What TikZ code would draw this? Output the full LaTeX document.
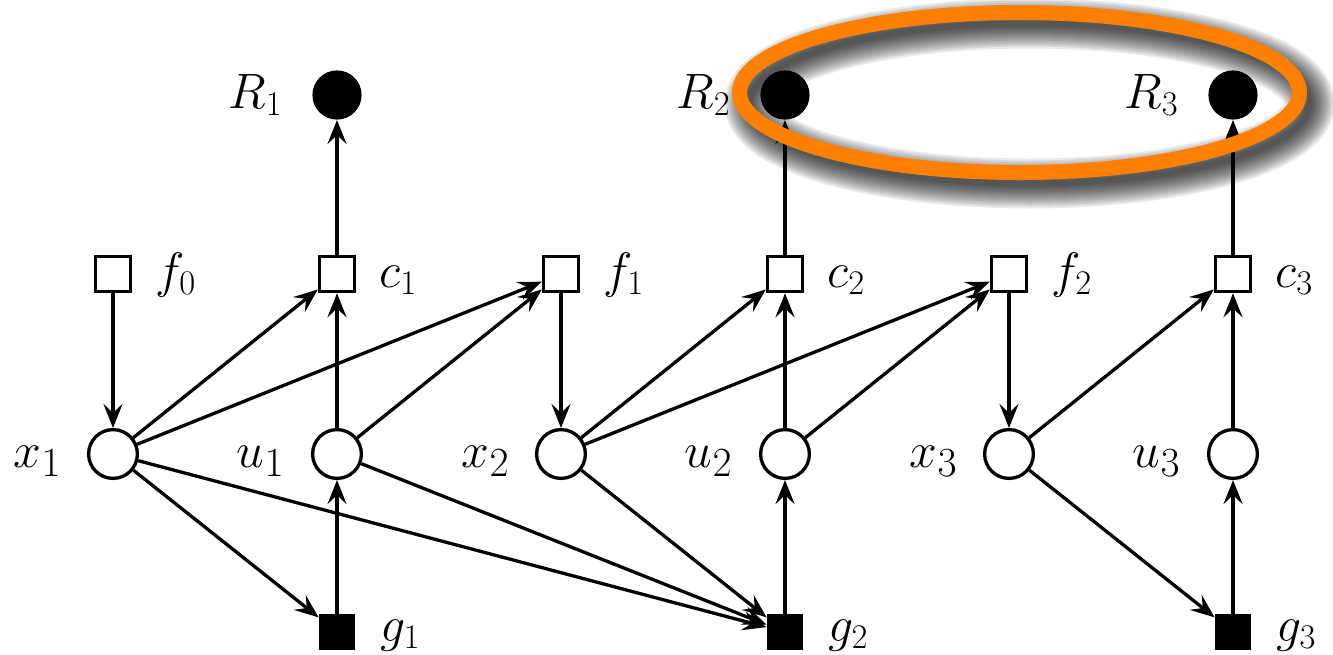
\documentclass[tikz,border=0pt]{standalone}
\usetikzlibrary{arrows.meta}
\definecolor{hlorange}{RGB}{255,128,0}
\begin{document}
\begin{tikzpicture}[x=0.5pt,y=-0.5pt,
  var/.style={circle,draw,line width=1.65pt,minimum size=24.4pt,inner sep=0,fill=white},
  fac/.style={rectangle,draw,line width=1.65pt,minimum size=17.6pt,inner sep=0,fill=white},
  gsq/.style={rectangle,fill=black,minimum size=18pt,inner sep=0},
  rew/.style={circle,fill=black,minimum size=24.6pt,inner sep=0},
  biglab/.style={anchor=base east,inner sep=0,font=\fontsize{32}{38}\selectfont},
  smlabw/.style={anchor=base west,inner sep=0,font=\fontsize{23.5}{28}\selectfont},
  smlabe/.style={anchor=base east,inner sep=0,font=\fontsize{23.5}{28}\selectfont},
  arr/.style={-{Stealth[length=12pt,width=9.5pt,inset=4.5pt]},line width=1.65pt},
  shadowring/.style={draw=black,draw opacity=0.085},
  highlight/.style={draw=hlorange,line width=7.5pt}
]
\useasboundingbox (0,0) rectangle (1333,654);

% factor squares
\node[fac] (f0) at (113,274) {};
\node[fac] (c1) at (337,274) {};
\node[fac] (f1) at (561,274) {};
\node[fac] (c2) at (785,274) {};
\node[fac] (f2) at (1009,274) {};
\node[fac] (c3) at (1233,274) {};
% variables
\node[var] (x1) at (113,454) {};
\node[var] (u1) at (337,454) {};
\node[var] (x2) at (561,454) {};
\node[var] (u2) at (785,454) {};
\node[var] (x3) at (1009,454) {};
\node[var] (u3) at (1233,454) {};
% g squares
\node[gsq] (g1) at (337,632) {};
\node[gsq] (g2) at (785,632) {};
\node[gsq] (g3) at (1233,632) {};
% rewards
\node[rew] (R1) at (337,95) {};
\node[rew] (R2) at (785,95) {};
\node[rew] (R3) at (1233,95) {};

% labels
\node[biglab] (lx1) at (62,467) {$x_1$};
\node[biglab] (lu1) at (285,467) {$u_1$};
\node[biglab] (lx2) at (510,467) {$x_2$};
\node[biglab] (lu2) at (733,467) {$u_2$};
\node[biglab] (lx3) at (958,467) {$x_3$};
\node[biglab] (lu3) at (1181,467) {$u_3$};
\node[smlabw] (lf0) at (155,287) {$f_0$};
\node[smlabw] (lc1) at (379,287) {$c_1$};
\node[smlabw] (lf1) at (603,287) {$f_1$};
\node[smlabw] (lc2) at (827,287) {$c_2$};
\node[smlabw] (lf2) at (1051,287) {$f_2$};
\node[smlabw] (lc3) at (1275,287) {$c_3$};
\node[smlabw] (lg1) at (380,641) {$g_1$};
\node[smlabw] (lg2) at (828,641) {$g_2$};
\node[smlabw] (lg3) at (1276,641) {$g_3$};
\node[smlabe] (lR1) at (283,108) {$R_1$};
\node[smlabe] (lR2) at (731,108) {$R_2$};
\node[smlabe] (lR3) at (1179,108) {$R_3$};

% edges
\draw[arr] (f0) -- (x1);
\draw[arr] (x1) -- (c1);
\draw[arr] (x1) -- (f1);
\draw[arr] (x1) -- (g1);
\draw[arr] (x1) -- (g2);
\draw[arr] (u1) -- (c1);
\draw[arr] (u1) -- (f1);
\draw[arr] (u1) -- (g2);
\draw[arr] (g1) -- (u1);
\draw[arr] (c1) -- (R1);
\draw[arr] (f1) -- (x2);
\draw[arr] (x2) -- (c2);
\draw[arr] (x2) -- (f2);
\draw[arr] (x2) -- (g2);
\draw[arr] (u2) -- (c2);
\draw[arr] (u2) -- (f2);
\draw[arr] (g2) -- (u2);
\draw[arr] (c2) -- (R2);
\draw[arr] (f2) -- (x3);
\draw[arr] (x3) -- (c3);
\draw[arr] (x3) -- (g3);
\draw[arr] (u3) -- (c3);
\draw[arr] (g3) -- (u3);
\draw[arr] (c3) -- (R3);

% highlight ellipse with soft shadow
\coordinate (shc) at (1029.5,103.5);
\coordinate (elc) at (1019.5,92.5);
\foreach \w in {25,23,21,19,17,15,13,11,9,7,5,3}
  \draw[shadowring,line width=\w pt] (shc) ellipse [x radius=140pt,y radius=40pt];
\draw[highlight] (elc) ellipse [x radius=140pt,y radius=40pt];
\end{tikzpicture}
\end{document}
